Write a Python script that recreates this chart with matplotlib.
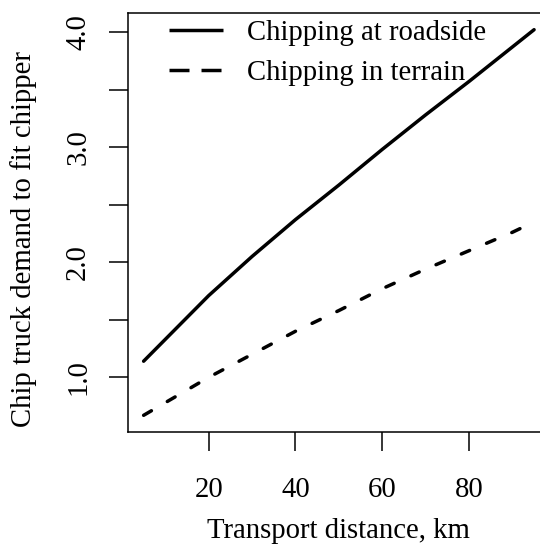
import matplotlib
matplotlib.use("Agg")
import matplotlib.pyplot as plt
from matplotlib.lines import Line2D

distance = [5, 10, 20, 30, 40, 50, 60, 70, 80, 90, 95]
roadside = [1.14, 1.33, 1.71, 2.05, 2.37, 2.67, 2.98, 3.28, 3.57, 3.87, 4.02]
terrain = [0.67, 0.78, 1.00, 1.20, 1.40, 1.58, 1.77, 1.94, 2.10, 2.26, 2.35]
xticks = [20, 40, 60, 80]
yticks = [1.0, 2.0, 3.0, 4.0]
yminor = [1.5, 2.5, 3.5]
labels = ['Chipping at roadside', 'Chipping in terrain']

plt.rcParams['font.family'] = ['Liberation Serif', 'DejaVu Serif']
FS = 20.7
LW = 2.5

fig = plt.figure(figsize=(5.4, 5.44), dpi=100)
ax = fig.add_axes([128/540, (544-432)/544, (549.7-128)/540, (432-13)/544])

ax.plot(distance, roadside, color='black', lw=LW, solid_capstyle='round')
ax.plot(distance, terrain, color='black', lw=LW, dashes=(2.6, 5.3),
        dash_capstyle='round')

ax.set_xlim(1.4, 98.6)
ax.set_ylim(0.525, 4.165)
ax.set_xticks(xticks)
ax.set_xticklabels([str(t) for t in xticks])
ax.set_yticks(yticks)
ax.set_yticklabels([f"{t:.1f}" for t in yticks], rotation=90, va='center')
ax.set_yticks(yminor, minor=True)
ax.tick_params(axis='both', which='both', direction='out', length=13.5, width=1.1,
               labelsize=FS)
ax.tick_params(axis='x', which='both', pad=19)
ax.tick_params(axis='y', which='both', pad=13)
for s in ax.spines.values():
    s.set_linewidth(1.1)

ax.set_xlabel('Transport distance, km', fontsize=FS, labelpad=11)
ax.set_ylabel('Chip truck demand to fit chipper', fontsize=FS)
ax.yaxis.set_label_coords(-0.215, 0.46)

h1 = Line2D([], [], color='black', lw=LW, solid_capstyle='butt')
h2 = Line2D([], [], color='black', lw=LW, dashes=(5.76, 3.46), dash_capstyle='butt')
leg = ax.legend([h1, h2], labels, loc='upper left',
                bbox_to_anchor=(160/540, 1 - 11.5/544), bbox_transform=fig.transFigure,
                frameon=False, fontsize=FS, handlelength=1.88, handletextpad=0.85,
                labelspacing=0.485, borderaxespad=0.0, borderpad=0.3)

fig.savefig('out.png', dpi=100)
